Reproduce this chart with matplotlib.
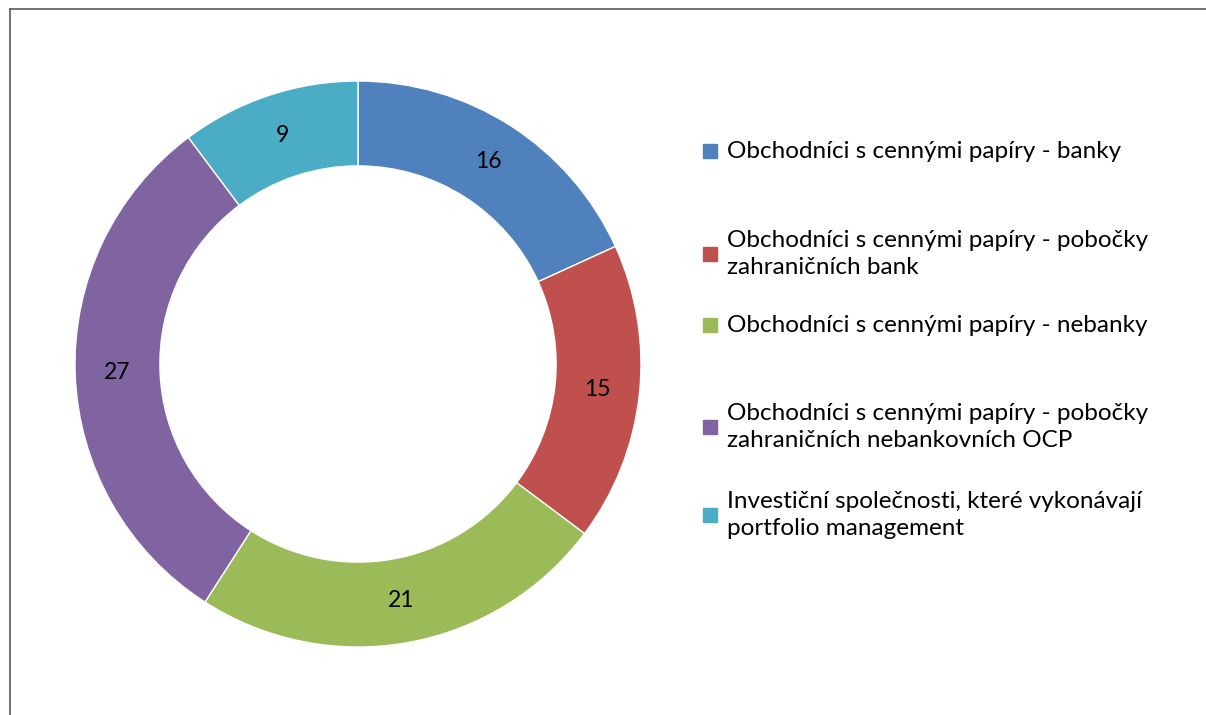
import matplotlib.pyplot as plt
from matplotlib.lines import Line2D
from matplotlib.patches import Rectangle

# data
labels = [
    "Obchodníci s cennými papíry - banky",
    "Obchodníci s cennými papíry - pobočky\nzahraničních bank",
    "Obchodníci s cennými papíry - nebanky",
    "Obchodníci s cennými papíry - pobočky\nzahraničních nebankovních OCP",
    "Investiční společnosti, které vykonávají\nportfolio management",
]
values = [16, 15, 21, 27, 9]
colors = ["#4F81BD", "#C0504D", "#9BBB59", "#8064A2", "#4BACC6"]

plt.rcParams['font.family'] = ['Lato', 'DejaVu Sans']

W, H = 1206, 715
fig = plt.figure(figsize=(W / 100, H / 100), dpi=100)

# donut axes (pixel layout of the reference)
cx, cy, r = 358, 364, 283
ax = fig.add_axes([(cx - r) / W, (H - cy - r) / H, 2 * r / W, 2 * r / H])
wedges, texts = ax.pie(values, colors=colors, startangle=90, counterclock=False,
                       radius=1, labels=[str(v) for v in values], labeldistance=0.85,
                       wedgeprops=dict(width=0.30, edgecolor="white", linewidth=1),
                       textprops=dict(fontsize=16.5, color="black", ha="center", va="center"))
ax.set_xlim(-1, 1)
ax.set_ylim(-1, 1)
ax.set_aspect("equal")
ax.axis("off")

# legend drawn by hand to keep the uneven spacing
leg_y = [151, 254, 325, 427, 515]
for lab, col, y in zip(labels, colors, leg_y):
    fig.patches.append(Rectangle((703 / W, 1 - (y + 7) / H), 14 / W, 14 / H,
                                 transform=fig.transFigure, color=col))
    fig.text(727 / W, 1 - y / H, lab, fontsize=17.5, va="center", ha="left",
             linespacing=1.4)

# chart frame (only left and top edges are visible)
fig.add_artist(Line2D([10 / W, 10 / W], [0, 1 - 9 / H], color="#595959", lw=1.2,
                      transform=fig.transFigure))
fig.add_artist(Line2D([10 / W, 1], [1 - 9 / H, 1 - 9 / H], color="#595959", lw=1.2,
                      transform=fig.transFigure))

fig.savefig("out.png", dpi=100)
